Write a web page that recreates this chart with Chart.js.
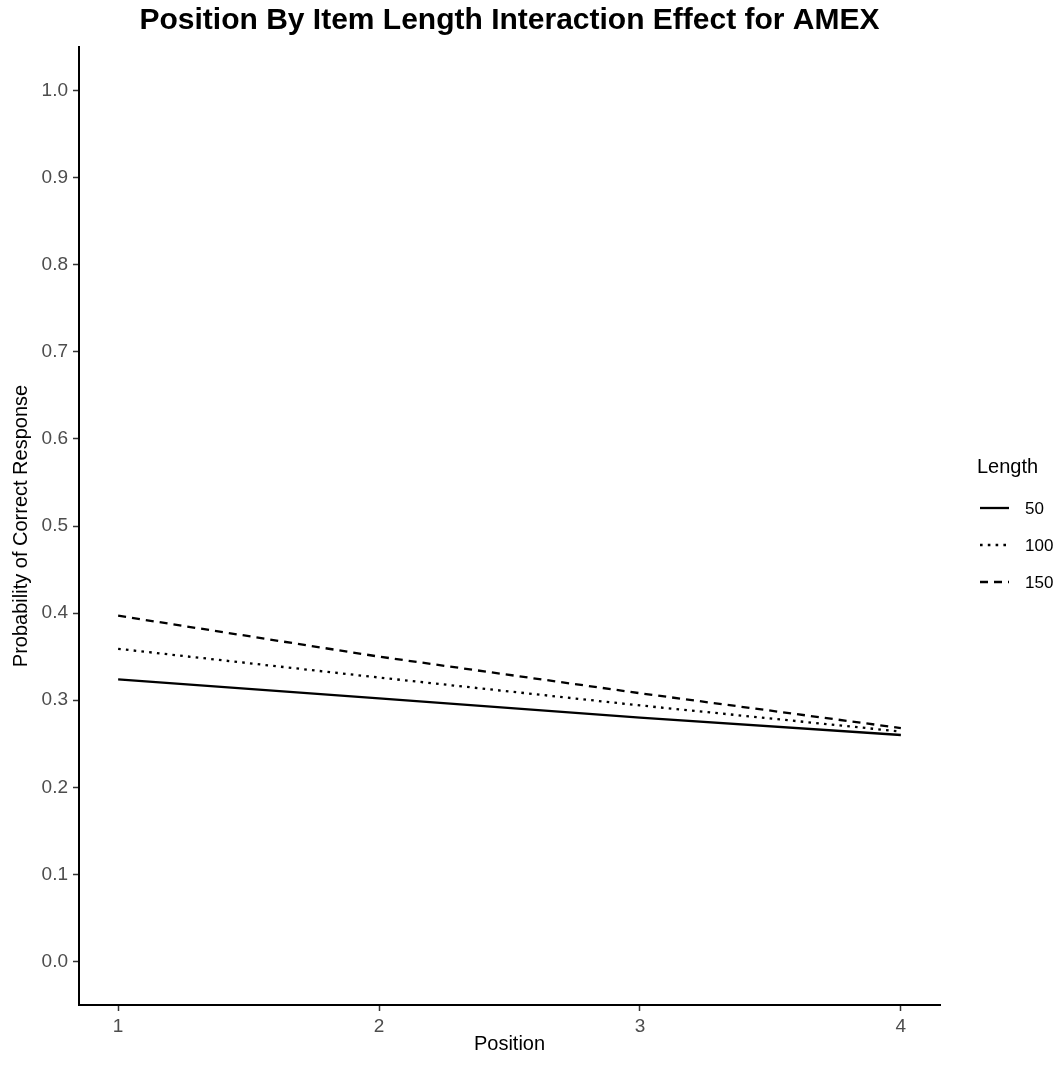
<!DOCTYPE html>
<html>
<head>
<meta charset="utf-8">
<script src="https://cdn.jsdelivr.net/npm/chart.js@4/dist/chart.umd.min.js"></script>
<style>
  html, body { margin: 0; padding: 0; background: #fff; }
  #wrap { width: 1062px; height: 1065px; }
</style>
</head>
<body>
<div id="wrap"><canvas id="interactionChart"></canvas></div>
<script>
/* Position x Length interaction, AMEX */
const positions = [1, 2, 3, 4];
const lengthLabels = ['50', '100', '150'];
const len50 = [0.324, 0.302, 0.280, 0.260];
const len100 = [0.359, 0.326, 0.294, 0.264];
const len150 = [0.397, 0.350, 0.308, 0.268];
const yTicks = [0, 0.1, 0.2, 0.3, 0.4, 0.5, 0.6, 0.7, 0.8, 0.9, 1.0];

const FONT = "'Liberation Sans', Arial, Helvetica, sans-serif";
Chart.defaults.font.family = FONT;

const seriesValues = [len50, len100, len150];
const dashes = [[], [2.6, 5.2], [8, 6]];

function toPoints(vals) {
  return positions.map((p, i) => ({ x: p, y: vals[i] }));
}

// title centred on the panel + ggplot-like legend on the right
const ggDecor = {
  id: 'ggDecor',
  afterDraw(chart) {
    const c = chart.ctx;
    const area = chart.chartArea;
    c.save();
    c.fillStyle = '#000';
    c.font = "bold 30px " + FONT;
    c.textAlign = 'center';
    c.textBaseline = 'alphabetic';
    c.fillText('Position By Item Length Interaction Effect for AMEX', (area.left + area.right) / 2, 29);

    c.textAlign = 'left';
    c.font = "20px " + FONT;
    c.fillText('Length', 977, 473);
    c.font = "17px " + FONT;
    c.textBaseline = 'middle';
    chart.data.datasets.forEach((ds, i) => {
      const y = 508 + i * 37;
      c.beginPath();
      c.setLineDash(ds.borderDash || []);
      c.lineWidth = ds.borderWidth;
      c.strokeStyle = ds.borderColor;
      c.moveTo(980, y);
      c.lineTo(1009, y);
      c.stroke();
      c.setLineDash([]);
      c.fillText(ds.label, 1025, y + 1);
    });
    c.restore();
  }
};

const ctx = document.getElementById('interactionChart').getContext('2d');
const interactionChart = new Chart(ctx, {
  type: 'line',
  data: {
    datasets: lengthLabels.map((lab, i) => ({
      label: lab,
      data: toPoints(seriesValues[i]),
      borderColor: '#000',
      borderWidth: 2.3,
      borderDash: dashes[i],
      pointRadius: 0,
      tension: 0,
      fill: false
    }))
  },
  options: {
    responsive: true,
    maintainAspectRatio: false,
    animation: false,
    layout: { padding: { top: 47, right: 122, left: 0, bottom: 0 } },
    plugins: {
      legend: { display: false },
      title: { display: false },
      tooltip: { enabled: false }
    },
    scales: {
      x: {
        type: 'linear',
        min: 0.85,
        max: 4.15,
        afterBuildTicks: (s) => { s.ticks = positions.map(v => ({ value: v })); },
        afterFit: (s) => { s.height = 60; },
        ticks: {
          color: '#4d4d4d',
          font: { size: 19 },
          padding: 4,
          maxRotation: 0,
          callback: (v) => String(v)
        },
        grid: { drawOnChartArea: false, drawTicks: true, tickLength: 6, tickColor: '#333', tickWidth: 1.5 },
        border: { display: true, color: '#000', width: 2 },
        title: { display: true, text: 'Position', color: '#000', font: { size: 20 }, padding: { top: 0, bottom: 9 } }
      },
      y: {
        type: 'linear',
        min: -0.05,
        max: 1.05,
        afterBuildTicks: (s) => { s.ticks = yTicks.map(v => ({ value: v })); },
        afterFit: (s) => { s.width = 79; },
        ticks: {
          color: '#4d4d4d',
          font: { size: 19 },
          padding: 5,
          callback: (v) => Number(v).toFixed(1)
        },
        grid: { drawOnChartArea: false, drawTicks: true, tickLength: 6, tickColor: '#333', tickWidth: 1.5 },
        border: { display: true, color: '#000', width: 2 },
        title: { display: true, text: 'Probability of Correct Response', color: '#000', font: { size: 20 }, padding: { top: 9, bottom: 0 } }
      }
    }
  },
  plugins: [ggDecor]
});
</script>
</body>
</html>
